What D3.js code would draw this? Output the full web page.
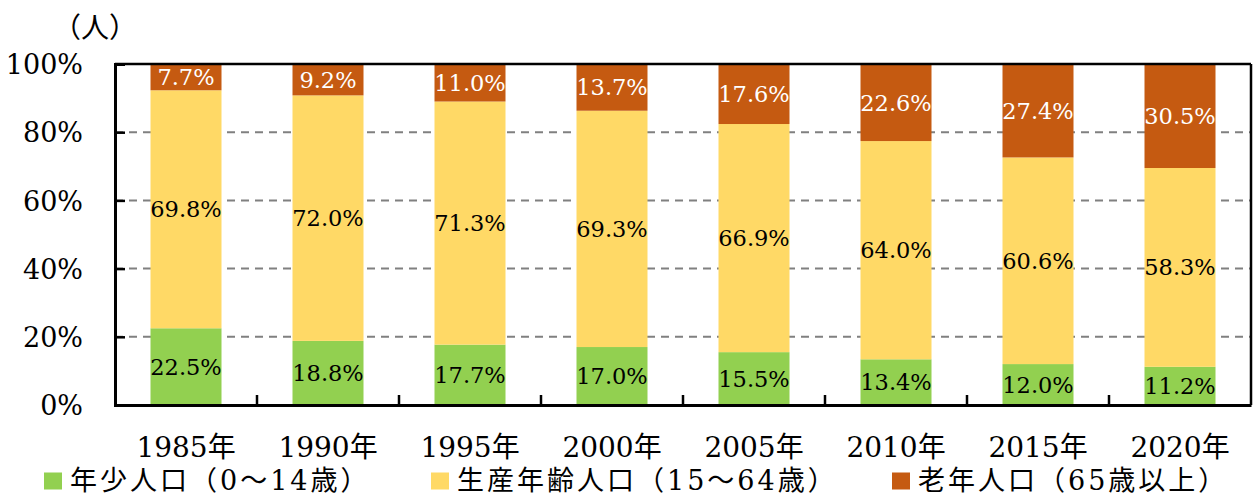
<!DOCTYPE html>
<html>
<head>
<meta charset="utf-8">
<script src="https://cdn.jsdelivr.net/npm/d3@7"></script>
<style>
  html, body { margin: 0; padding: 0; background: #fff; }
  svg text { font-family: "DejaVu Serif", "Noto Sans CJK JP", serif; }
</style>
</head>
<body>
<svg id="chart" width="1256" height="496"></svg>
<script>
// 年齢3区分別人口の割合
const years = ["1985年", "1990年", "1995年", "2000年", "2005年", "2010年", "2015年", "2020年"];
const youth   = [22.5, 18.8, 17.7, 17.0, 15.5, 13.4, 12.0, 11.2];   // 年少人口（0～14歳）
const working = [69.8, 72.0, 71.3, 69.3, 66.9, 64.0, 60.6, 58.3];   // 生産年齢人口（15～64歳）
const elderly = [7.7, 9.2, 11.0, 13.7, 17.6, 22.6, 27.4, 30.5];     // 老年人口（65歳以上）
const seriesNames = ["年少人口（0～14歳）", "生産年齢人口（15～64歳）", "老年人口（65歳以上）"];
const yTicks = [0, 20, 40, 60, 80, 100];

const colors = ["#92D050", "#FFD966", "#C55A11"];
const labelColors = ["#000", "#000", "#fff"];

const svg = d3.select("#chart");
const plotLeft = 115, plotRight = 1251, plotTop = 64, plotBottom = 405;

const x = d3.scaleBand().domain(years).range([plotLeft, plotRight]).paddingInner(0.5).paddingOuter(0.25);
const y = d3.scaleLinear().domain([0, 100]).range([plotBottom, plotTop]);

// 積み上げ
const rows = years.map((yr, i) => ({ year: yr, s0: youth[i], s1: working[i], s2: elderly[i] }));
const stack = d3.stack().keys(["s0", "s1", "s2"]);
const series = stack(rows);

// グリッド線（棒の背面）
svg.append("g").selectAll("line")
  .data(yTicks.filter(t => t > 0 && t < 100))
  .join("line")
  .attr("x1", plotLeft).attr("x2", plotRight)
  .attr("y1", d => y(d)).attr("y2", d => y(d))
  .attr("stroke", "#808080").attr("stroke-width", 2)
  .attr("stroke-dasharray", "8,6");

// 棒
const groups = svg.append("g").selectAll("g")
  .data(series)
  .join("g")
  .attr("fill", (d, i) => colors[i]);

groups.selectAll("rect")
  .data(d => d)
  .join("rect")
  .attr("x", d => x(d.data.year))
  .attr("width", x.bandwidth())
  .attr("y", d => y(d[1]))
  .attr("height", d => y(d[0]) - y(d[1]));

// 値ラベル
series.forEach((s, i) => {
  svg.append("g").selectAll("text")
    .data(s)
    .join("text")
    .attr("x", d => x(d.data.year) + x.bandwidth() / 2)
    .attr("y", d => (y(d[0]) + y(d[1])) / 2)
    .attr("text-anchor", "middle")
    .attr("dominant-baseline", "central")
    .style("font-size", "22.5px")
    .attr("fill", labelColors[i])
    .text(d => (d[1] - d[0]).toFixed(1) + "%");
});

// 枠線（上・右）
svg.append("line").attr("x1", plotLeft).attr("x2", plotRight).attr("y1", plotTop).attr("y2", plotTop)
  .attr("stroke", "#000").attr("stroke-width", 2.5);
svg.append("line").attr("x1", plotRight).attr("x2", plotRight).attr("y1", plotTop).attr("y2", plotBottom)
  .attr("stroke", "#000").attr("stroke-width", 2.5);

// Y軸
const yAxis = d3.axisLeft(y).tickValues(yTicks).tickSize(-10).tickPadding(32).tickFormat(d => d + "%");
const gy = svg.append("g").attr("transform", `translate(${plotLeft},0)`).call(yAxis);
gy.select(".domain").attr("stroke", "#000").attr("stroke-width", 3);
gy.selectAll(".tick line").attr("stroke", "#000").attr("stroke-width", 2.5);
gy.selectAll(".tick text").style("font-size", "27px").attr("fill", "#000").attr("dy", "0.36em");

// X軸
const xAxis = d3.axisBottom(x).tickSize(0).tickPadding(32);
const gx = svg.append("g").attr("transform", `translate(0,${plotBottom})`).call(xAxis);
gx.select(".domain").attr("stroke", "#000").attr("stroke-width", 3);
gx.selectAll(".tick text").style("font-size", "28px").attr("fill", "#000");

// 区切り目盛
const step = x.step();
svg.append("g").selectAll("line")
  .data(years.slice(1))
  .join("line")
  .attr("x1", d => x(d) - (step - x.bandwidth()) / 2)
  .attr("x2", d => x(d) - (step - x.bandwidth()) / 2)
  .attr("y1", plotBottom).attr("y2", plotBottom - 10)
  .attr("stroke", "#000").attr("stroke-width", 2.5);

// 単位
svg.append("text").attr("x", 95).attr("y", 28).attr("text-anchor", "middle")
  .attr("dominant-baseline", "central").style("font-size", "28px").text("（人）");

// 凡例
const legendX = [44, 431, 892];
const legend = svg.append("g").selectAll("g")
  .data(seriesNames)
  .join("g")
  .attr("transform", (d, i) => `translate(${legendX[i]},481)`);
legend.append("rect").attr("x", 0).attr("y", -8.5).attr("width", 18).attr("height", 17)
  .attr("fill", (d, i) => colors[i]);
legend.append("text").attr("x", 26).attr("y", -1).attr("dominant-baseline", "central")
  .style("font-size", "27px").style("letter-spacing", "3px").text(d => d);
</script>
</body>
</html>
